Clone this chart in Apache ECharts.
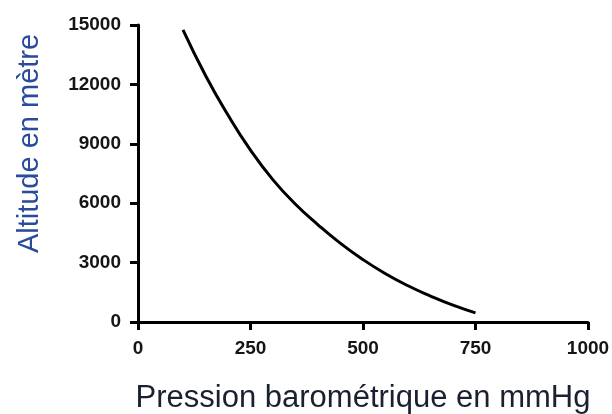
<!DOCTYPE html>
<html>
<head>
<meta charset="utf-8">
<script src="https://cdn.jsdelivr.net/npm/echarts@6/dist/echarts.min.js"></script>
<style>html,body{margin:0;padding:0;background:#fff;}#c{width:612px;height:414px;}</style>
</head>
<body>
<div id="c"></div>
<script>
var pressure = [100, 150, 200, 250, 300, 350, 400, 450, 500, 550, 600, 650, 700, 750];
var altitude = [14750, 12450, 10450, 8680, 7180, 5950, 4910, 3970, 3150, 2440, 1830, 1310, 850, 460];
var xTicks = [0, 250, 500, 750, 1000];
var yTicks = [0, 3000, 6000, 9000, 12000, 15000];
var xTitle = 'Pression barométrique en mmHg';
var yTitle = 'Altitude en mètre';

var chart = echarts.init(document.getElementById('c'), null, {renderer: 'canvas'});
var axisLine = {show: true, onZero: false, lineStyle: {color: '#000', width: 3}};
var tick = {show: true, inside: false, length: 8, lineStyle: {color: '#000', width: 3}};
var font = 'Liberation Sans, Arial, sans-serif';
var labelStyle = {color: '#151515', fontFamily: font, fontWeight: 'bold', fontSize: 19,
  formatter: function (v) { return String(v); }};
chart.setOption({
  animation: false,
  grid: {left: 138, right: 24, top: 25, bottom: 92, containLabel: false, outerBoundsMode: 'none'},
  xAxis: {
    type: 'value', min: xTicks[0], max: xTicks[xTicks.length - 1], interval: 250,
    axisLine: axisLine, axisTick: tick, splitLine: {show: false},
    axisLabel: Object.assign({margin: 17}, labelStyle),
    name: xTitle, nameLocation: 'middle', nameGap: 61,
    nameTextStyle: {color: '#1a2030', fontFamily: font, fontSize: 31}
  },
  yAxis: {
    type: 'value', min: yTicks[0], max: yTicks[yTicks.length - 1], interval: 3000,
    axisLine: axisLine, axisTick: tick, splitLine: {show: false},
    axisLabel: Object.assign({margin: 17}, labelStyle),
    name: yTitle, nameLocation: 'middle', nameGap: 94,
    nameTextStyle: {color: '#2a4a9a', fontFamily: font, fontSize: 29, padding: [0, 0, 0, 60]}
  },
  series: [{
    type: 'line', smooth: true, showSymbol: false,
    data: pressure.map(function (p, i) { return [p, altitude[i]]; }),
    lineStyle: {color: '#000', width: 3}
  }]
});
</script>
</body>
</html>
